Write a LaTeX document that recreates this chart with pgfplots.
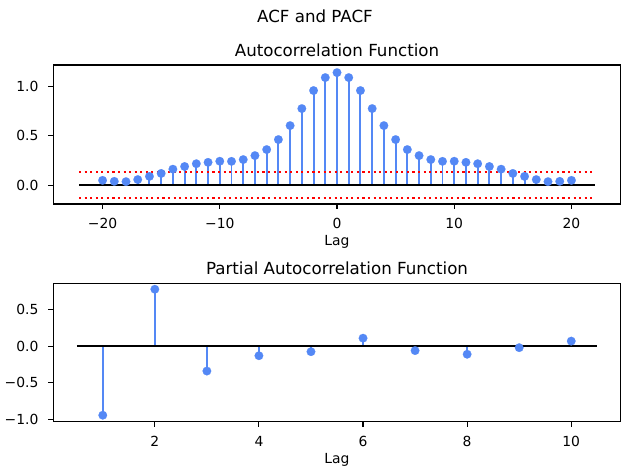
\documentclass[border=0pt]{standalone}
\usepackage{pgfplots}
\pgfplotsset{compat=1.18}
\usepackage{fontspec}
\setmainfont{DejaVu Sans}
\definecolor{stemblue}{RGB}{84,136,245}

\pgfplotstableread{
lag acf
-20 0.050
-19 0.040
-18 0.037
-17 0.058
-16 0.090
-15 0.120
-14 0.163
-13 0.190
-12 0.218
-11 0.232
-10 0.243
-9 0.242
-8 0.260
-7 0.300
-6 0.361
-5 0.462
-4 0.603
-3 0.775
-2 0.957
-1 1.088
0 1.138
1 1.088
2 0.957
3 0.775
4 0.603
5 0.462
6 0.361
7 0.300
8 0.260
9 0.242
10 0.243
11 0.232
12 0.218
13 0.190
14 0.163
15 0.120
16 0.090
17 0.058
18 0.037
19 0.040
20 0.050
}\acftable

\pgfplotstableread{
lag pacf
1 -0.945
2 0.780
3 -0.340
4 -0.130
5 -0.075
6 0.110
7 -0.060
8 -0.110
9 -0.020
10 0.070
}\pacftable

\pgfplotsset{
  every axis title shift=0pt,
  mpl/.style={
    scale only axis,
    width=408.5pt,
    anchor=south west,
    axis line style={line width=0.8pt, black},
    every tick/.style={black, line width=0.8pt},
    major tick length=3.5pt,
    tick align=outside,
    xtick pos=bottom,
    ytick pos=left,
    tick label style={font=\fontsize{10}{12}\selectfont, inner sep=0pt},
    xticklabel style={anchor=base, yshift=-14.4pt},
    yticklabel style={anchor=east, xshift=-7pt},
    title style={at={(axis description cs:0.5,1)}, anchor=base, yshift=6pt, font=\fontsize{12}{14}\selectfont, inner sep=0pt},
    xlabel style={at={(axis description cs:0.5,0)}, anchor=base, yshift=-29.8pt, font=\fontsize{10}{12}\selectfont, inner sep=0pt},
    clip=true,
  },
  stem/.style={ycomb, draw=stemblue, line width=1.4pt, mark=*, mark size=3.1pt,
    mark options={fill=stemblue, draw=stemblue, line width=0.1pt, solid}},
}

\begin{document}
\begin{tikzpicture}
\path[use as bounding box] (0pt,0pt) rectangle (453.6pt,342pt);
\node[anchor=base, inner sep=0pt, font=\fontsize{12}{14}\selectfont] at (226.8pt,325.9pt) {ACF and PACF};

\begin{axis}[mpl, at={(38.4pt,195.1pt)}, height=100.1pt,
  xmin=-24.2, xmax=24.2, ymin=-0.189, ymax=1.215,
  xtick={-20,-10,0,10,20}, xticklabels={−20,−10,0,10,20},
  ytick={0,0.5,1}, yticklabels={0.0,0.5,1.0},
  title={Autocorrelation Function}, xlabel={Lag}]
\addplot[stem] table[x=lag, y=acf] {\acftable};
\addplot[black, line width=1.6pt] coordinates {(-22,0) (22,0)};
\addplot[red, line width=1.5pt, dash pattern=on 1.5pt off 2.5pt] coordinates {(-22,0.13) (22,0.13)};
\addplot[red, line width=1.5pt, dash pattern=on 1.5pt off 2.5pt] coordinates {(-22,-0.128) (22,-0.128)};
\end{axis}

\begin{axis}[mpl, at={(38.4pt,38.2pt)}, height=99.9pt,
  xmin=0.05, xmax=10.95, ymin=-1.037, ymax=0.863,
  xtick={2,4,6,8,10}, xticklabels={2,4,6,8,10},
  ytick={-1,-0.5,0,0.5}, yticklabels={−1.0,−0.5,0.0,0.5},
  title={Partial Autocorrelation Function}, xlabel={Lag}]
\addplot[stem] table[x=lag, y=pacf] {\pacftable};
\addplot[black, line width=1.6pt] coordinates {(0.5,0) (10.5,0)};
\end{axis}
\end{tikzpicture}
\end{document}
